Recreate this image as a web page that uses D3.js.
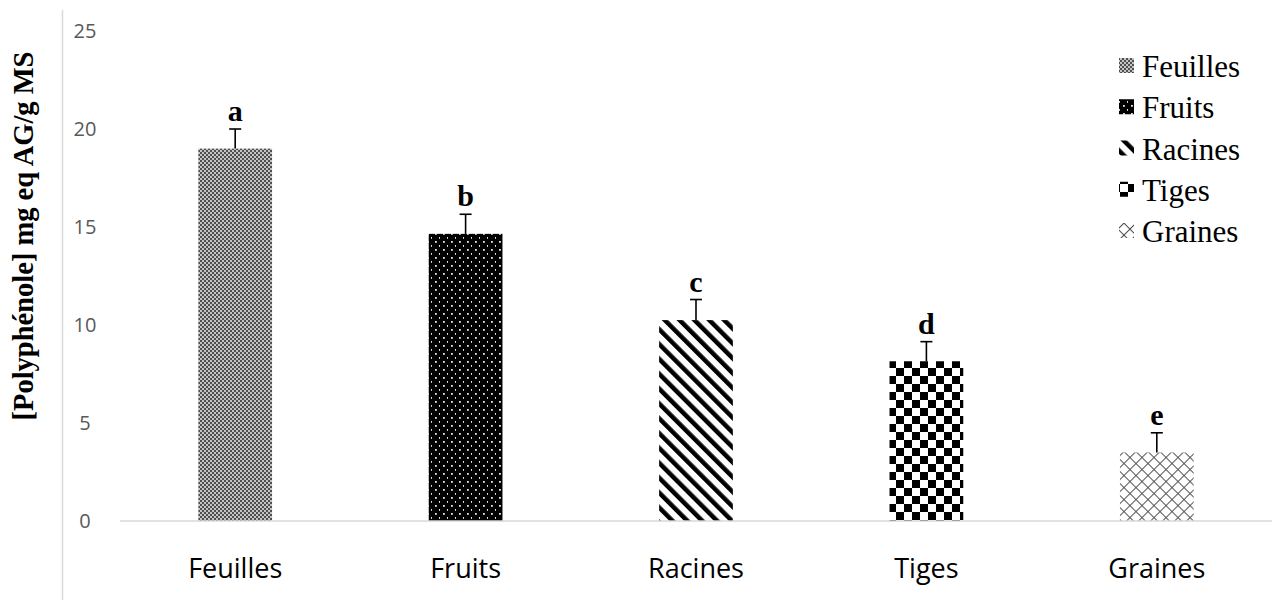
<!DOCTYPE html>
<html>
<head>
<meta charset="utf-8">
<script src="https://cdn.jsdelivr.net/npm/d3@7"></script>
<style>
  html, body { margin: 0; padding: 0; background: #fff; }
  svg { display: block; }
</style>
</head>
<body>
<svg id="chart" width="1278" height="600"></svg>
<script>
const categories = ["Feuilles", "Fruits", "Racines", "Tiges", "Graines"];
const values = [19.0, 14.65, 10.25, 8.15, 3.5];
const errors = [1.0, 1.0, 1.05, 1.0, 1.0];
const letters = ["a", "b", "c", "d", "e"];
const yTicks = [0, 5, 10, 15, 20, 25];
const yTitle = "[Polyphénole] mg eq AG/g MS";

const svg = d3.select("#chart");
const W = 1278, H = 600;
const x0 = 120, x1 = 1272, yBase = 521, yTop = 31;

const x = d3.scaleBand().domain(categories).range([x0, x1]).paddingInner(0.68).paddingOuter(0.34);
const y = d3.scaleLinear().domain([0, 25]).range([yBase, yTop]);

// Patterns
const defs = svg.append("defs");
const patIds = ["pFeuilles", "pFruits", "pRacines", "pTiges", "pGraines"];

// Feuilles: fine grey checker
let p = defs.append("pattern").attr("id", patIds[0]).attr("patternUnits", "userSpaceOnUse").attr("width", 4).attr("height", 4);
p.append("rect").attr("width", 4).attr("height", 4).attr("fill", "#c4c4c4");
p.append("rect").attr("width", 2).attr("height", 2).attr("fill", "#505050");
p.append("rect").attr("x", 2).attr("y", 2).attr("width", 2).attr("height", 2).attr("fill", "#505050");

// Fruits: black with white dots
p = defs.append("pattern").attr("id", patIds[1]).attr("patternUnits", "userSpaceOnUse").attr("width", 8).attr("height", 8);
p.append("rect").attr("width", 8).attr("height", 8).attr("fill", "#000");
p.append("rect").attr("x", 3).attr("y", 1).attr("width", 1.8).attr("height", 1.8).attr("fill", "#e8e8e8");
p.append("rect").attr("x", 7).attr("y", 5).attr("width", 1.8).attr("height", 1.8).attr("fill", "#e8e8e8");

// Racines: diagonal stripes "\"
p = defs.append("pattern").attr("id", patIds[2]).attr("patternUnits", "userSpaceOnUse").attr("width", 10.5).attr("height", 10.5).attr("patternTransform", "rotate(-45)");
p.append("rect").attr("width", 10.5).attr("height", 10.5).attr("fill", "#fff");
p.append("rect").attr("width", 4.5).attr("height", 10.5).attr("fill", "#000");

// Tiges: checkerboard
p = defs.append("pattern").attr("id", patIds[3]).attr("patternUnits", "userSpaceOnUse").attr("width", 16).attr("height", 16);
p.append("rect").attr("width", 16).attr("height", 16).attr("fill", "#fff");
p.append("rect").attr("width", 8).attr("height", 8).attr("fill", "#000");
p.append("rect").attr("x", 8).attr("y", 8).attr("width", 8).attr("height", 8).attr("fill", "#000");

// Graines: diagonal crosshatch
p = defs.append("pattern").attr("id", patIds[4]).attr("patternUnits", "userSpaceOnUse").attr("width", 8.5).attr("height", 8.5).attr("patternTransform", "rotate(45)");
p.append("rect").attr("width", 8.5).attr("height", 8.5).attr("fill", "#fff");
p.append("line").attr("x1", 0).attr("y1", 0).attr("x2", 0).attr("y2", 8.5).attr("stroke", "#505050").attr("stroke-width", 2);
p.append("line").attr("x1", 0).attr("y1", 0).attr("x2", 8.5).attr("y2", 0).attr("stroke", "#505050").attr("stroke-width", 2);

// Left vertical rule
svg.append("line").attr("x1", 62.5).attr("x2", 62.5).attr("y1", 10).attr("y2", H)
  .attr("stroke", "#d9d9d9").attr("stroke-width", 1.5);

// Y tick labels
svg.append("g").selectAll("text").data(yTicks).join("text")
  .attr("x", 85).attr("y", d => y(d)).attr("dy", "0.35em")
  .attr("text-anchor", "middle")
  .attr("font-family", "'Open Sans', sans-serif").attr("font-size", 20).attr("fill", "#595959")
  .text(d => d);

// Bars
svg.append("g").selectAll("rect").data(categories).join("rect")
  .attr("x", d => x(d)).attr("width", x.bandwidth())
  .attr("y", (d, i) => y(values[i])).attr("height", (d, i) => yBase - y(values[i]))
  .attr("fill", (d, i) => `url(#${patIds[i]})`);

// Baseline
svg.append("line").attr("x1", x0).attr("x2", x1).attr("y1", yBase).attr("y2", yBase)
  .attr("stroke", "#d9d9d9").attr("stroke-width", 1.5);

// Error bars
const eb = svg.append("g").attr("stroke", "#000").attr("stroke-width", 1.6);
categories.forEach((c, i) => {
  const cx = x(c) + x.bandwidth() / 2;
  eb.append("line").attr("x1", cx).attr("x2", cx).attr("y1", y(values[i])).attr("y2", y(values[i] + errors[i]));
  eb.append("line").attr("x1", cx - 6).attr("x2", cx + 6).attr("y1", y(values[i] + errors[i])).attr("y2", y(values[i] + errors[i]));
});

// Significance letters
svg.append("g").selectAll("text").data(categories).join("text")
  .attr("x", d => x(d) + x.bandwidth() / 2)
  .attr("y", (d, i) => y(values[i] + errors[i]) - 8)
  .attr("text-anchor", "middle")
  .attr("font-family", "'Liberation Serif', 'Times New Roman', serif").attr("font-weight", "bold").attr("font-size", 30)
  .text((d, i) => letters[i]);

// Category labels
svg.append("g").selectAll("text").data(categories).join("text")
  .attr("x", d => x(d) + x.bandwidth() / 2).attr("y", 578)
  .attr("text-anchor", "middle")
  .attr("font-family", "'Open Sans', sans-serif").attr("font-size", 27).attr("fill", "#000")
  .text(d => d);

// Y title
svg.append("text")
  .attr("transform", "translate(33,236) rotate(-90)")
  .attr("text-anchor", "middle")
  .attr("font-family", "'Liberation Serif', 'Times New Roman', serif").attr("font-weight", "bold").attr("font-size", 28.5)
  .text(yTitle);

// Legend
const leg = svg.append("g");
categories.forEach((c, i) => {
  const by = 77 + i * 41.25;
  leg.append("rect").attr("x", 1119).attr("y", by - 19).attr("width", 15).attr("height", 15)
    .attr("fill", `url(#${patIds[i]})`);
  leg.append("text").attr("x", 1142).attr("y", by)
    .attr("font-family", "'Liberation Serif', 'Times New Roman', serif").attr("font-size", 31)
    .text(c);
});
</script>
</body>
</html>
